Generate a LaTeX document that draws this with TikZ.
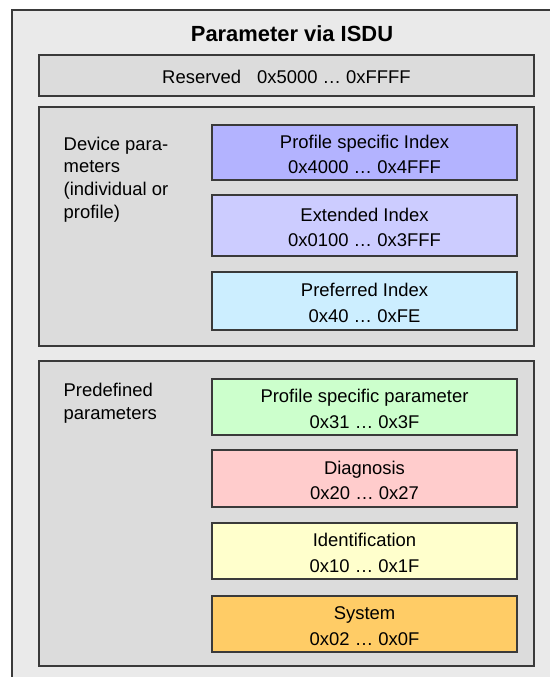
\documentclass[tikz,border=0pt]{standalone}
\usepackage{fontspec}
\setmainfont{Liberation Sans}
\definecolor{bgouter}{HTML}{EAEAEA}
\definecolor{bggroup}{HTML}{DCDCDC}
\definecolor{edge}{HTML}{3A3A3A}
\definecolor{cprof}{HTML}{B3B3FF}
\definecolor{cext}{HTML}{CCCCFF}
\definecolor{cpref}{HTML}{CCEEFF}
\definecolor{cpsp}{HTML}{CCFFCC}
\definecolor{cdiag}{HTML}{FFCCCC}
\definecolor{cident}{HTML}{FFFFCC}
\definecolor{csys}{HTML}{FFCC66}
\begin{document}
\begin{tikzpicture}[x=1bp,y=-1bp,
  frame/.style={draw=edge,line width=1.3bp},
  groupbox/.style={frame,fill=bggroup},
  idxbox/.style={frame,inner sep=0pt},
  idxtext/.style={align=center,inner sep=0pt,font=\fontsize{18.5}{25.8}\selectfont},
  lbl/.style={anchor=north west,align=left,inner sep=0pt,font=\fontsize{18.5}{22.8}\selectfont},
  ]
\useasboundingbox (0,0) rectangle (550,677);
\clip (0,0) rectangle (550,677);
\fill[white] (0,0) rectangle (550,677);
% outer frame
\draw[frame,fill=bgouter] (12,10) rectangle (570,700);
\node[anchor=base,inner sep=0pt,font=\fontsize{22}{26}\selectfont\bfseries] (title) at (292,41.7) {Parameter via ISDU};
% reserved
\draw[groupbox] (39,55) rectangle (534,96);
\node[anchor=base,inner sep=0pt,font=\fontsize{18.5}{22}\selectfont] (res) at (286.5,83.3) {Reserved\hspace{16bp}0x5000 … 0xFFFF};
% device parameters group
\draw[groupbox] (39,107) rectangle (534,346);
\node[lbl] (devlbl) at (63.5,136.5) {Device para-\\meters\\(individual or\\profile)};
\newcommand{\ibox}[5]{%
  \node[idxbox,fill=#2,minimum width=305bp,minimum height={(#4)-(#3)}] (#1) at (364.5,{((#3)+(#4))/2}) {};
  \node[idxtext] (#1-t) at ([yshift=-1.8bp]#1.center) {#5};}
\ibox{prof}{cprof}{125}{180}{Profile specific Index\\0x4000 … 0x4FFF}
\ibox{ext}{cext}{195}{256}{Extended Index\\0x0100 … 0x3FFF}
\ibox{pref}{cpref}{272}{330}{Preferred Index\\0x40 … 0xFE}
% predefined group
\draw[groupbox] (39,361) rectangle (534,666);
\node[lbl] (prelbl) at (63.5,383) {Predefined\\parameters};
\ibox{psp}{cpsp}{379}{435}{Profile specific parameter\\0x31 … 0x3F}
\ibox{diag}{cdiag}{450}{507}{Diagnosis\\0x20 … 0x27}
\ibox{ident}{cident}{523}{579}{Identification\\0x10 … 0x1F}
\ibox{sys}{csys}{596}{652}{System\\0x02 … 0x0F}
\end{tikzpicture}
\end{document}
